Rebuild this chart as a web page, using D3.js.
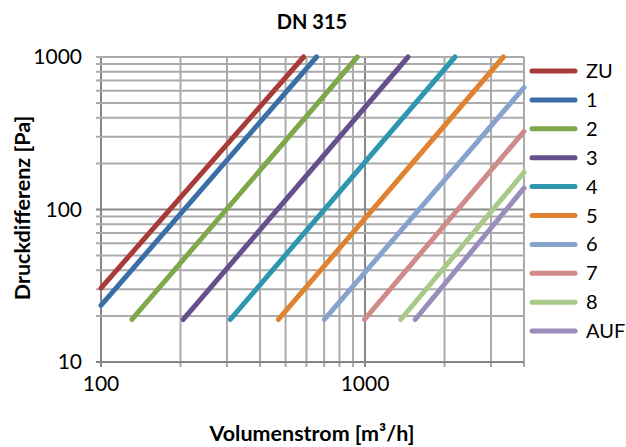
<!DOCTYPE html>
<html>
<head>
<meta charset="utf-8">
<script src="https://cdn.jsdelivr.net/npm/d3@7"></script>
<style>
  html, body { margin: 0; padding: 0; background: #fff; }
  svg { display: block; font-family: Lato, "Open Sans", sans-serif; }
</style>
</head>
<body>
<svg id="chart" width="626" height="447"></svg>
<script>
// Pressure drop vs. volume flow for the damper positions of a DN 315 unit
const seriesNames = ["ZU", "1", "2", "3", "4", "5", "6", "7", "8", "AUF"];
const seriesColors = ["#A83B38", "#3A6EA6", "#7FA84B", "#664F8D", "#2C97AF",
                      "#E0822F", "#87A3CD", "#D08A89", "#A8C98A", "#9B8DBB"];
// volume flow [m³/h] at start and end of each curve
const flowStart = [100, 100, 131, 205, 309, 470, 702, 996, 1365, 1549];
const flowEnd   = [585, 655, 935, 1455, 2190, 3340, 4000, 4000, 4000, 4000];
// pressure difference [Pa] at start and end of each curve
const dpStart = [30.5, 23.5, 19, 19, 19, 19, 19, 19, 19, 19];
const dpEnd   = [1000, 1000, 1000, 1000, 1000, 1000, 630, 325, 175, 138];

const xTickLabels = [100, 1000];
const yTickLabels = [10, 100, 1000];
const xGrid = [100, 200, 300, 400, 500, 600, 700, 800, 900, 1000, 2000, 3000, 4000];
const yGrid = [10, 20, 30, 40, 50, 60, 70, 80, 90, 100, 200, 300, 400, 500, 600, 700, 800, 900, 1000];

const svg = d3.select("#chart");
const plot = { left: 101, right: 524, top: 57, bottom: 362 };

const x = d3.scaleLog().domain([100, 4000]).range([plot.left, plot.right]);
const y = d3.scaleLog().domain([10, 1000]).range([plot.bottom, plot.top]);

const gridColor = "#ABABAB";
const axisColor = "#868686";

// grid lines
svg.append("g").selectAll("line.v").data(xGrid).join("line")
  .attr("x1", d => x(d)).attr("x2", d => x(d))
  .attr("y1", plot.top).attr("y2", plot.bottom + 5)
  .attr("stroke", d => (d === 100 || d === 1000) ? axisColor : gridColor)
  .attr("stroke-width", 2);
svg.append("g").selectAll("line.h").data(yGrid).join("line")
  .attr("y1", d => y(d)).attr("y2", d => y(d))
  .attr("x1", plot.left - 5).attr("x2", plot.right)
  .attr("stroke", d => (d === 10 || d === 100) ? axisColor : gridColor)
  .attr("stroke-width", 2);

// tick labels
svg.append("g").selectAll("text").data(yTickLabels).join("text")
  .attr("x", 82).attr("y", d => y(d)).attr("dy", "0.35em")
  .attr("text-anchor", "end").attr("font-size", 21).attr("fill", "#000")
  .text(d => d);
svg.append("g").selectAll("text").data(xTickLabels).join("text")
  .attr("x", d => x(d)).attr("y", 384).attr("dy", "0.35em")
  .attr("text-anchor", "middle").attr("font-size", 21).attr("fill", "#000")
  .text(d => d);

// curves
const line = d3.line().x(d => x(d[0])).y(d => y(d[1]));
const curves = seriesNames.map((name, i) => ({
  name, color: seriesColors[i],
  pts: [[flowStart[i], dpStart[i]], [flowEnd[i], dpEnd[i]]]
}));
svg.append("g").selectAll("path").data(curves).join("path")
  .attr("d", d => line(d.pts))
  .attr("fill", "none")
  .attr("stroke", d => d.color)
  .attr("stroke-width", 5)
  .attr("stroke-linecap", "round");

// legend
const legend = svg.append("g").selectAll("g").data(curves).join("g")
  .attr("transform", (d, i) => `translate(0, ${71 + i * 28.9})`);
legend.append("line")
  .attr("x1", 532).attr("x2", 575).attr("y1", 0).attr("y2", 0)
  .attr("stroke", d => d.color).attr("stroke-width", 5).attr("stroke-linecap", "round");
legend.append("text")
  .attr("x", 586).attr("y", 0).attr("dy", "0.35em")
  .attr("font-size", 20).attr("fill", "#000")
  .text(d => d.name);

// titles
svg.append("text").attr("x", 312).attr("y", 22).attr("dy", "0.35em")
  .attr("text-anchor", "middle").attr("font-size", 20).attr("font-weight", "bold")
  .text("DN 315");
svg.append("text").attr("x", 312).attr("y", 433).attr("dy", "0.35em")
  .attr("text-anchor", "middle").attr("font-size", 21.5).attr("font-weight", "bold")
  .text("Volumenstrom [m³/h]");
svg.append("text")
  .attr("transform", "translate(22, 208) rotate(-90)")
  .attr("dy", "0.35em")
  .attr("text-anchor", "middle").attr("font-size", 21.5).attr("font-weight", "bold")
  .text("Druckdifferenz [Pa]");
</script>
</body>
</html>
